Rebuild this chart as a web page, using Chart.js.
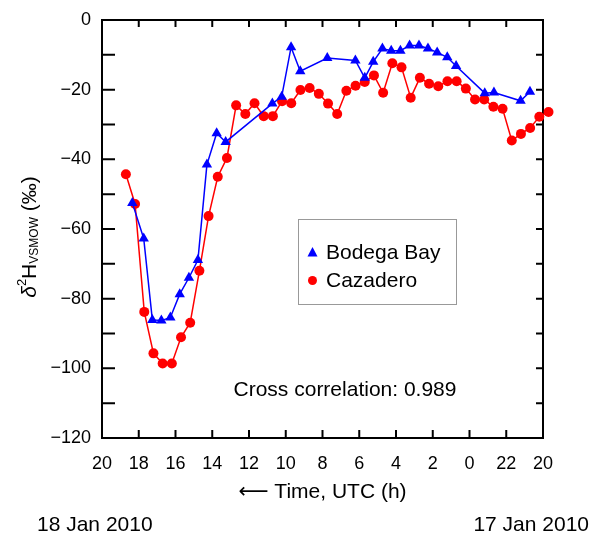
<!DOCTYPE html>
<html>
<head>
<meta charset="utf-8">
<script src="https://cdn.jsdelivr.net/npm/chart.js@4"></script>
<style>
  html, body { margin: 0; padding: 0; background: #fff; }
</style>
</head>
<body>
<canvas id="chart" width="590" height="536"></canvas>
<script>
// hours counted from 17 Jan 2010 00:00 UTC (so 24 = 0 h on 18 Jan)
const cazaderoHours = [42.7, 42.2, 41.7, 41.2, 40.7, 40.2, 39.7, 39.2, 38.7, 38.2, 37.7, 37.2,
  36.7, 36.2, 35.7, 35.2, 34.7, 34.2, 33.7, 33.2, 32.7, 32.2, 31.7, 31.2, 30.7, 30.2, 29.7, 29.2,
  28.7, 28.2, 27.7, 27.2, 26.7, 26.2, 25.7, 25.2, 24.7, 24.2, 23.7, 23.2, 22.7, 22.2, 21.7, 21.2,
  20.7, 20.2, 19.7];
const cazaderoValues = [-44.3, -52.8, -83.8, -95.7, -98.6, -98.6, -91.1, -86.9, -72.0, -56.3, -45.0, -39.6,
  -24.5, -27.0, -23.9, -27.6, -27.6, -23.3, -23.9, -20.1, -19.5, -21.2, -24.0, -27.0, -20.3, -18.9, -17.8, -15.9,
  -20.9, -12.4, -13.6, -22.3, -16.6, -18.3, -19.0, -17.6, -17.6, -19.7, -22.8, -22.8, -24.9, -25.5, -34.6, -32.7,
  -31.0, -27.8, -26.4];

const bodegaHours = [42.35, 41.73, 41.26, 40.77, 40.28, 39.77, 39.27, 38.78, 38.29, 37.76, 37.27,
  34.73, 34.22, 33.71, 33.21, 31.74, 30.21, 29.7, 29.24, 28.74, 28.26, 27.76, 27.26, 26.75, 26.26,
  25.76, 25.21, 24.73, 23.17, 22.67, 21.22, 20.71];
const bodegaValues = [-52.5, -62.7, -86.1, -86.3, -85.4, -78.7, -74.0, -68.9, -41.5, -32.5, -35.0,
  -24.0, -22.0, -7.8, -14.7, -10.9, -11.6, -16.6, -12.0, -8.2, -8.8, -8.8, -7.3, -7.3, -8.2,
  -9.3, -10.7, -13.2, -21.0, -20.8, -23.2, -20.6];

const seriesNames = ["Bodega Bay", "Cazadero"];
const xMin = 20, xMax = 44;
const yMin = -120, yMax = 0;
const crossCorrelation = "Cross correlation: 0.989";
const dateLabels = ["18 Jan 2010", "17 Jan 2010"];

const FONT = "'Liberation Sans', Arial, Helvetica, sans-serif";

function toPoints(xs, ys) {
  return xs.map((x, i) => ({ x: x, y: ys[i] }));
}

// frame + inward ticks
const framePlugin = {
  id: "frame",
  beforeDatasetsDraw(chart) {
    const { ctx, chartArea: a, scales } = chart;
    ctx.save();
    ctx.strokeStyle = "#000";
    ctx.lineWidth = 2;
    ctx.strokeRect(a.left, a.top, a.right - a.left, a.bottom - a.top);
    ctx.beginPath();
    for (let v = yMin; v <= yMax; v += 10) {
      const y = scales.y.getPixelForValue(v);
      ctx.moveTo(a.left, y); ctx.lineTo(a.left + 13, y);
      ctx.moveTo(a.right, y); ctx.lineTo(a.right - 7, y);
    }
    for (let h = xMin; h <= xMax; h += 2) {
      const x = scales.x.getPixelForValue(h);
      ctx.moveTo(x, a.bottom); ctx.lineTo(x, a.bottom - 8);
      ctx.moveTo(x, a.top); ctx.lineTo(x, a.top + 7);
    }
    ctx.stroke();
    ctx.restore();
  },
  afterDraw(chart) {
    const { ctx } = chart;
    ctx.save();
    ctx.fillStyle = "#000";

    // y title: δ²H_VSMOW (‰)
    ctx.translate(30, 237);
    ctx.rotate(-Math.PI / 2);
    const parts = [
      { t: "\u03b4", f: "italic 21px " + FONT, dy: 0 },
      { t: "2", f: "13px " + FONT, dy: -8 },
      { t: "H", f: "21px " + FONT, dy: 0 },
      { t: "VSMOW", f: "12px " + FONT, dy: 5 },
      { t: " (\u2030)", f: "21px " + FONT, dy: 0 }
    ];
    let total = 0;
    parts.forEach(p => { ctx.font = p.f; p.w = ctx.measureText(p.t).width; total += p.w; });
    let cx = -total / 2;
    ctx.textBaseline = "middle";
    parts.forEach(p => { ctx.font = p.f; ctx.fillText(p.t, cx, p.dy); cx += p.w; });
    ctx.setTransform(1, 0, 0, 1, 0, 0);

    // dates
    ctx.font = "21px " + FONT;
    ctx.textBaseline = "middle";
    ctx.textAlign = "left";
    ctx.fillText(dateLabels[0], 37, 525);
    ctx.textAlign = "right";
    ctx.fillText(dateLabels[1], 589, 525);

    // correlation note
    ctx.textAlign = "center";
    ctx.fillText(crossCorrelation, 345, 390);

    // legend
    ctx.fillStyle = "#fff";
    ctx.fillRect(298, 219, 158, 85);
    ctx.strokeStyle = "#999";
    ctx.lineWidth = 1;
    ctx.strokeRect(298.5, 219.5, 158, 85);
    ctx.fillStyle = "#0000ff";
    ctx.beginPath();
    ctx.moveTo(312.5, 247); ctx.lineTo(317.5, 256.5); ctx.lineTo(307.5, 256.5);
    ctx.closePath(); ctx.fill();
    ctx.fillStyle = "#ff0000";
    ctx.beginPath(); ctx.arc(312.5, 280.5, 4.5, 0, Math.PI * 2); ctx.fill();
    ctx.fillStyle = "#000";
    ctx.textAlign = "left";
    ctx.fillText(seriesNames[0], 326, 253);
    ctx.fillText(seriesNames[1], 326, 281);
    ctx.restore();
  }
};

new Chart(document.getElementById("chart"), {
  type: "line",
  data: {
    datasets: [
      {
        label: seriesNames[0],
        data: toPoints(bodegaHours, bodegaValues),
        borderColor: "#0000ff",
        backgroundColor: "#0000ff",
        borderWidth: 1.5,
        pointStyle: "triangle",
        pointRadius: 6,
        pointBorderWidth: 0,
        clip: false
      },
      {
        label: seriesNames[1],
        data: toPoints(cazaderoHours, cazaderoValues),
        borderColor: "#ff0000",
        backgroundColor: "#ff0000",
        borderWidth: 1.5,
        pointStyle: "circle",
        pointRadius: 5,
        pointHoverRadius: 9,
        pointBorderWidth: 0,
        clip: false
      }
    ]
  },
  options: {
    responsive: false,
    animation: false,
    events: [],
    layout: { padding: { top: 20, right: 47, left: 0, bottom: 0 } },
    plugins: { legend: { display: false }, tooltip: { enabled: false } },
    scales: {
      x: {
        type: "linear",
        reverse: true,
        min: xMin,
        max: xMax,
        grid: { display: false },
        border: { display: false },
        ticks: {
          stepSize: 2,
          color: "#000",
          padding: 7,
          font: { family: FONT, size: 18 },
          callback: v => String(v % 24)
        },
        title: {
          display: true,
          text: "\u27f5 Time, UTC (h)",
          color: "#000",
          font: { family: FONT + ", 'DejaVu Sans'", size: 21 },
          padding: { top: 0, bottom: 31 }
        },
        afterFit: s => { s.height = 98; }
      },
      y: {
        min: yMin,
        max: yMax,
        grid: { display: false },
        border: { display: false },
        ticks: {
          stepSize: 20,
          color: "#000",
          padding: 3,
          font: { family: FONT, size: 18 },
          callback: v => (v < 0 ? "\u2212" + Math.abs(v) : String(v))
        },
        afterFit: s => { s.width = 102; }
      }
    }
  },
  plugins: [framePlugin]
});
</script>
</body>
</html>
